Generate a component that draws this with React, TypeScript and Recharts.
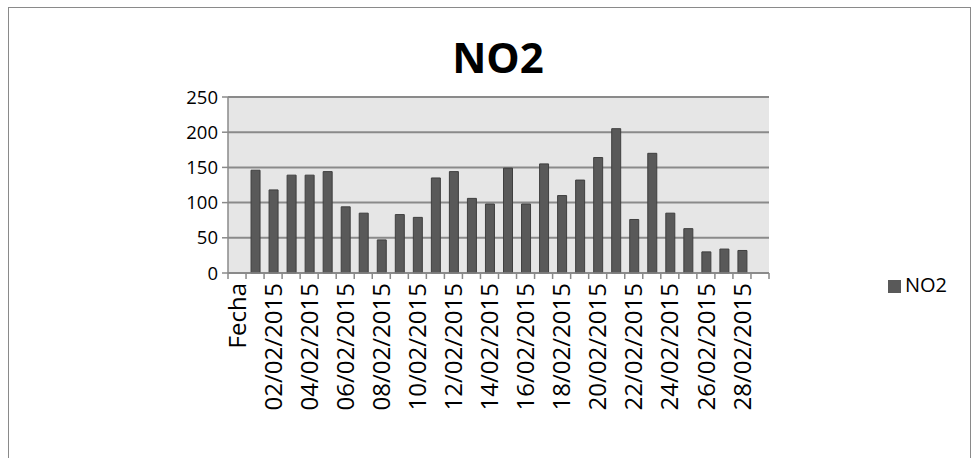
import { BarChart, Bar, XAxis, YAxis, CartesianGrid, Legend } from 'recharts'

// ── Data ──────────────────────────────────────────────────────────────────────

const FECHAS = [
  'Fecha',
  '01/02/2015', '02/02/2015', '03/02/2015', '04/02/2015', '05/02/2015', '06/02/2015', '07/02/2015',
  '08/02/2015', '09/02/2015', '10/02/2015', '11/02/2015', '12/02/2015', '13/02/2015', '14/02/2015',
  '15/02/2015', '16/02/2015', '17/02/2015', '18/02/2015', '19/02/2015', '20/02/2015', '21/02/2015',
  '22/02/2015', '23/02/2015', '24/02/2015', '25/02/2015', '26/02/2015', '27/02/2015', '28/02/2015',
  '',
]

const NO2 = [
  null,
  146, 118, 139, 139, 144, 94, 85,
  47, 83, 79, 135, 144, 106, 98,
  149, 98, 155, 110, 132, 164, 205,
  76, 170, 85, 63, 30, 34, 32,
  null,
]

const Y_TICKS = [0, 50, 100, 150, 200, 250]

const chartData = FECHAS.map((f, i) => ({ fecha: f, NO2: NO2[i] }))

// ── Style ─────────────────────────────────────────────────────────────────────

const FONT = '"Open Sans", sans-serif'
const GRID = '#8a8a8a'
const BAR = '#595959'
const W = 977
const H = 458
const MARGIN = { top: 97, right: 208, left: 168, bottom: 0 }
const BAND = (W - MARGIN.left - 60 - MARGIN.right) / FECHAS.length

function FechaTick(props: any) {
  const { x, y, index, payload } = props
  const half = payload?.offset || BAND / 2
  const last = index === FECHAS.length - 1
  return (
    <g>
      <line x1={x - half} y1={y} x2={x - half} y2={y + 6} stroke={GRID} strokeWidth={1.5} />
      {last && <line x1={x + half} y1={y} x2={x + half} y2={y + 6} stroke={GRID} strokeWidth={1.5} />}
      {index % 2 === 0 && (
        <text
          x={x} y={y + 10}
          transform={`rotate(-90 ${x} ${y + 10})`}
          textAnchor="end" dy="0.36em"
          fontFamily={FONT} fontSize={24} fill="#000"
        >
          {payload.value}
        </text>
      )}
    </g>
  )
}

export default function App() {
  return (
    <div style={{ position: 'absolute', left: 0, top: 0, width: W, height: H, overflow: 'hidden', background: '#fff' }}>
      <div style={{ position: 'absolute', left: 8, top: 7, width: 961, height: 520, border: '1.5px solid #8a8a8a' }} />
      <div style={{
        position: 'absolute', left: 0, width: 996, top: 36, textAlign: 'center',
        fontFamily: FONT, fontWeight: 700, fontSize: 42, lineHeight: '42px', color: '#000',
      }}>
        NO2
      </div>
      <div style={{ position: 'absolute', left: 0, top: 0 }}>
        <BarChart width={W} height={H} data={chartData} margin={MARGIN} barSize={9}>
          <CartesianGrid vertical={false} stroke={GRID} strokeWidth={2} fill="#e6e6e6" />
          <XAxis
            dataKey="fecha" interval={0} height={185}
            tickSize={0} tickMargin={0} tickLine={false}
            axisLine={{ stroke: GRID, strokeWidth: 1.5 }}
            tick={<FechaTick />}
          />
          <YAxis
            width={60} domain={[0, 250]} ticks={Y_TICKS} interval={0}
            tickSize={6} tickMargin={4}
            tickLine={{ stroke: GRID, strokeWidth: 1.5 }}
            axisLine={{ stroke: GRID, strokeWidth: 1.5 }}
            tick={{ fontFamily: FONT, fontSize: 18.5, fill: '#000' }}
          />
          <Legend
            layout="vertical" align="center" verticalAlign="middle"
            iconType="square" iconSize={13}
            wrapperStyle={{ left: 888, top: 271, width: 80, fontFamily: FONT, fontSize: 20 }}
            formatter={(v: string) => <span style={{ color: '#000' }}>{v}</span>}
          />
          <Bar dataKey="NO2" fill={BAR} stroke="#3f3f3f" strokeWidth={1} isAnimationActive={false} />
        </BarChart>
      </div>
    </div>
  )
}
